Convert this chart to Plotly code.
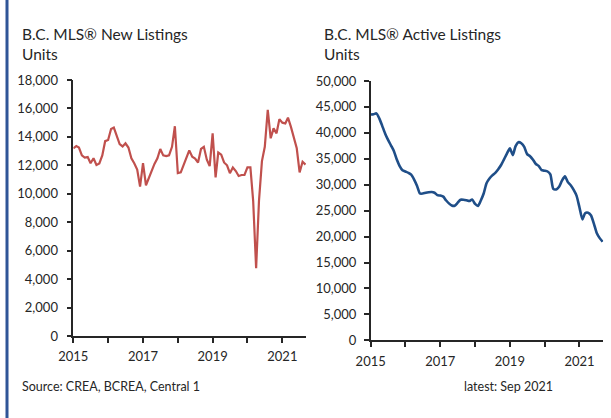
import plotly.graph_objects as go
import pandas as pd

months = pd.date_range("2015-01-01", "2021-09-01", freq="MS").strftime("%Y-%m-%d").tolist()

new_listings = [
    13200, 13350, 13250, 12700, 12550, 12580, 12150, 12500, 12030, 12130, 12700, 13700,
    13780, 14550, 14650, 14050, 13500, 13330, 13550, 13250, 12500, 12150, 11700, 10500,
    12150, 10600, 11100, 11650, 12100, 12500, 13150, 12700, 12650, 12700, 13300, 14750,
    11450, 11500, 11950, 12500, 13050, 12600, 12480, 12200, 13150, 13300, 12400, 11950,
    14250, 11150, 12900, 12750, 12200, 12000, 11450, 11850, 11600, 11250, 11320, 11320,
    11850, 11850, 9500, 4760, 9500, 12300, 13300, 15900, 13900, 14600, 14250, 15250,
    15000, 14950, 15350, 14700, 14000, 13200, 11500, 12250, 12050,
]

active_listings = [
    43550, 43600, 43750, 42800, 41400, 39900, 38700, 37600, 36500, 34900, 33600, 32800,
    32550, 32300, 31950, 31000, 29800, 28300, 28300, 28450, 28550, 28600, 28450, 28000,
    27900, 27700, 27000, 26400, 26000, 25950, 26500, 27100, 27100, 27000, 26850, 27150,
    26300, 25900, 26900, 28300, 30300, 31200, 31800, 32300, 33000, 33800, 34900, 36000,
    37000, 35700, 37400, 38200, 38000, 37300, 35900, 35500, 34800, 34000, 33600, 32800,
    32700, 32550, 32000, 29200, 29100, 29600, 30800, 31600, 30500, 29900, 29000, 27900,
    25600, 23300, 24500, 24600, 24100, 22500, 20700, 19700, 19000,
]

year_ticks = ["2015-01-01", "2017-01-01", "2019-01-01", "2021-01-01"]
year_text = ["2015", "2017", "2019", "2021"]

left_ticks = list(range(0, 18001, 2000))
right_ticks = list(range(0, 50001, 5000))

W, H = 611, 418
FONT = "Lato, 'Open Sans', sans-serif"
TXT = "#262626"
AX = "#262626"

fig = go.Figure()
fig.add_trace(go.Scatter(x=months, y=new_listings, mode="lines",
                         line=dict(color="#C0504D", width=2.2),
                         xaxis="x", yaxis="y", showlegend=False))
fig.add_trace(go.Scatter(x=months, y=active_listings, mode="lines",
                         line=dict(color="#1F4E88", width=2.6, shape="spline", smoothing=0.6),
                         xaxis="x2", yaxis="y2", showlegend=False))

def px_x(p):
    return p / W

def px_y(p):
    return (H - p) / H

common_x = dict(type="date", tickmode="array", tickvals=year_ticks, ticktext=year_text,
                showline=True, linecolor=AX, linewidth=1.5, ticks="outside", ticklen=5,
                tickcolor=AX, tickwidth=1.5, showgrid=False, zeroline=False, automargin=False,
                minor=dict(dtick="M12", tick0="2015-01-01", ticks="outside", ticklen=5,
                           tickcolor=AX, tickwidth=1.5, showgrid=False),
                tickfont=dict(family=FONT, size=13, color=TXT), ticklabelstandoff=3)
common_y = dict(tickmode="array", showline=True, linecolor=AX, linewidth=1.5,
                ticks="outside", ticklen=5, tickcolor=AX, tickwidth=1.5, automargin=False,
                showgrid=False, zeroline=False, tickformat=",d",
                tickfont=dict(family=FONT, size=13, color=TXT))

fig.update_layout(
    template="none",
    width=W, height=H, autosize=False,
    margin=dict(l=0, r=0, t=0, b=0, pad=0),
    paper_bgcolor="white", plot_bgcolor="white",
    xaxis=dict(common_x, domain=[px_x(73.3), px_x(306)], range=["2015-01-01", "2021-09-06"],
               anchor="y"),
    yaxis=dict(common_y, domain=[px_y(336), px_y(80)], range=[0, 18000],
               tickvals=left_ticks, anchor="x", ticklabelstandoff=6),
    xaxis2=dict(common_x, domain=[px_x(370.7), px_x(603.3)], range=["2015-01-01", "2021-09-08"],
                anchor="y2"),
    yaxis2=dict(common_y, domain=[px_y(340.3), px_y(81)], range=[0, 50000],
                tickvals=right_ticks, anchor="x2", ticklabelstandoff=5),
    shapes=[dict(type="rect", xref="paper", yref="paper", x0=px_x(5.5), x1=px_x(8.5),
                 y0=0, y1=1, fillcolor="#2F5597", line=dict(width=0), layer="above")],
    annotations=[
        dict(text="B.C. MLS® New Listings<br>Units", xref="paper", yref="paper",
             x=px_x(20), y=px_y(23), xanchor="left", yanchor="top", align="left",
             showarrow=False, font=dict(family=FONT, size=15.5, color=TXT)),
        dict(text="B.C. MLS® Active Listings<br>Units", xref="paper", yref="paper",
             x=px_x(322), y=px_y(23), xanchor="left", yanchor="top", align="left",
             showarrow=False, font=dict(family=FONT, size=15.5, color=TXT)),
        dict(text="Source: CREA, BCREA, Central 1", xref="paper", yref="paper",
             x=px_x(20), y=px_y(386), xanchor="left", yanchor="middle",
             showarrow=False, font=dict(family=FONT, size=12.5, color=TXT)),
        dict(text="latest: Sep 2021", xref="paper", yref="paper",
             x=px_x(462), y=px_y(386), xanchor="left", yanchor="middle",
             showarrow=False, font=dict(family=FONT, size=12.5, color=TXT)),
    ],
)

fig.write_html("out.html")
